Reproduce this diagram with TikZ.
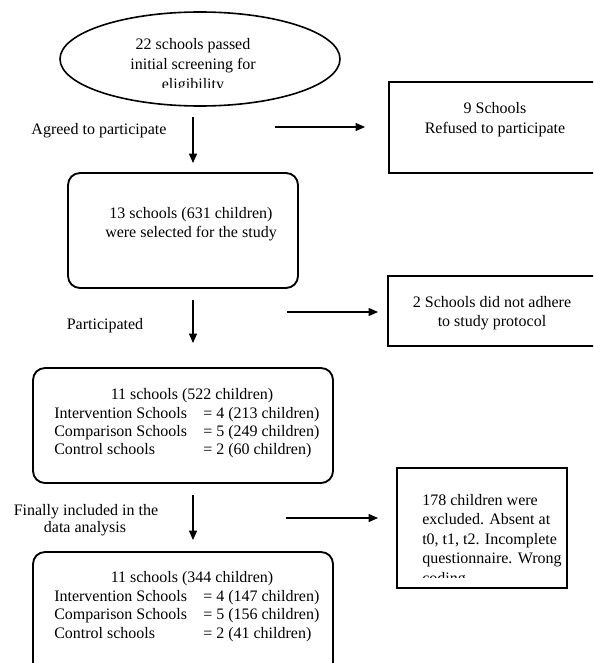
\documentclass[tikz,border=0pt]{standalone}
\usepackage{fontspec}
\setmainfont{Liberation Serif}
\usetikzlibrary{arrows.meta,shapes.geometric}
\tikzset{
  txt/.style={inner sep=0pt, anchor=base, font=\fontsize{12}{14}\selectfont},
  txtw/.style={inner sep=0pt, anchor=base west, font=\fontsize{12}{14}\selectfont},
  sqbox/.style={draw, line width=1.6pt, inner sep=0pt},
  rdbox/.style={draw, line width=1.4pt, rounded corners=9pt, inner sep=0pt},
  arr/.style={line width=1pt, -{Triangle[length=7pt,width=6pt]}},
}
\begin{document}
\begin{tikzpicture}[x=0.75pt,y=-0.75pt]
\useasboundingbox (0,0) rectangle (593,663);
\clip (0,0) rectangle (593,663);

% ellipse
\node[draw, ellipse, line width=1.2pt, minimum width=210pt, minimum height=70.5pt, inner sep=0pt] (ell) at (200,59) {};
\begin{scope}
\clip (60,20) rectangle (340,87.8);
\node[txt] (e1) at (193,50) {22 schools passed};
\node[txt] (e2) at (193,70) {initial screening for};
\node[txt] (e3) at (193,90) {eligibility};
\end{scope}

% box 9 schools
\node[sqbox, minimum width=158.25pt, minimum height=68.25pt] (r1) at (494.5,127.5) {};
\node[txt] (r1a) at (495,114) {9 Schools};
\node[txt] (r1b) at (495,133) {Refused to participate};

% box 13 schools
\node[rdbox, minimum width=172.5pt, minimum height=86.25pt] (b1) at (183,230.5) {};
\node[txt] (b1a) at (191,218) {13 schools (631 children)};
\node[txt] (b1b) at (191,237) {were selected for the study};

% box 2 schools
\node[sqbox, minimum width=159pt, minimum height=52.5pt] (r2) at (494,311) {};
\node[txt] (r2a) at (492,307) {2 Schools did not adhere};
\node[txt] (r2b) at (492,326) {to study protocol};

% box 11 schools (522)
\node[rdbox, minimum width=225pt, minimum height=86.25pt] (b2) at (183,425.5) {};
\node[txt] (b2t) at (192,399) {11 schools (522 children)};
\node[txtw] (b2l1) at (54,418) {Intervention Schools};
\node[txtw] (b2l2) at (54,436) {Comparison Schools};
\node[txtw] (b2l3) at (54,454) {Control schools};
\node[txtw] (b2r1) at (203,418) {= 4 (213 children)};
\node[txtw] (b2r2) at (203,436) {= 5 (249 children)};
\node[txtw] (b2r3) at (203,454) {= 2 (60 children)};

% box 178 children
\node[sqbox, minimum width=127.5pt, minimum height=90pt] (r3) at (482,528) {};
\begin{scope}
\clip (400,470) rectangle (565,577.5);
\node[txtw] (r3a) at (422,505) {178 children were};
\node[txtw] (r3b) at (422,524) {excluded. Absent at};
\node[txtw] (r3c) at (422,544) {t0, t1, t2. Incomplete};
\node[txtw] (r3d) at (422,563) {questionnaire. Wrong};
\node[txtw] (r3e) at (422,583) {coding};
\end{scope}

% box 11 schools (344)
\node[rdbox, minimum width=225pt, minimum height=96pt] (b3) at (183,616) {};
\node[txt] (b3t) at (192,582) {11 schools (344 children)};
\node[txtw] (b3l1) at (54,601) {Intervention Schools};
\node[txtw] (b3l2) at (54,619) {Comparison Schools};
\node[txtw] (b3l3) at (54,638) {Control schools};
\node[txtw] (b3r1) at (203,601) {= 4 (147 children)};
\node[txtw] (b3r2) at (203,619) {= 5 (156 children)};
\node[txtw] (b3r3) at (203,638) {= 2 (41 children)};

% labels
\node[txt] (l1) at (99,135) {Agreed to participate};
\node[txt] (l2) at (105,329) {Participated};
\node[txt] (l3a) at (86,515) {Finally included in the};
\node[txt] (l3b) at (85,532) {data analysis};

% connector coordinates
\coordinate (a1s) at (193,117); \coordinate (a1e) at (193,163);
\coordinate (a2s) at (193,300); \coordinate (a2e) at (193,343);
\coordinate (a3s) at (193,495); \coordinate (a3e) at (193,540);
\coordinate (h1s) at (275,127); \coordinate (h1e) at (365,127);
\coordinate (h2s) at (287,312); \coordinate (h2e) at (378,312);
\coordinate (h3s) at (286,518); \coordinate (h3e) at (378,518);

\draw[arr] (a1s) -- (a1e);
\draw[arr] (a2s) -- (a2e);
\draw[arr] (a3s) -- (a3e);
\draw[arr] (h1s) -- (h1e);
\draw[arr] (h2s) -- (h2e);
\draw[arr] (h3s) -- (h3e);
\end{tikzpicture}
\end{document}
